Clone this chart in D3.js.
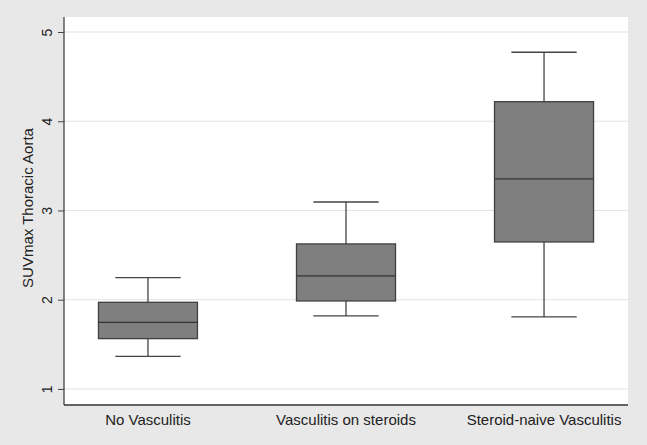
<!DOCTYPE html>
<html><head><meta charset="utf-8">
<script src="https://cdn.jsdelivr.net/npm/d3@7"></script>
<style>body{margin:0;background:#e8e8e8;}svg{display:block;font-family:"Liberation Sans",Arial,sans-serif;}</style>
</head><body>
<svg id="chart" width="647" height="445"></svg>
<script>
const categories = ["No Vasculitis", "Vasculitis on steroids", "Steroid-naive Vasculitis"];
const whiskerLow = [1.366, 1.818, 1.807];
const q1 = [1.564, 1.986, 2.647];
const median = [1.747, 2.266, 3.353];
const q3 = [1.971, 2.625, 4.219];
const whiskerHigh = [2.247, 3.095, 4.773];
const yTicks = [1, 2, 3, 4, 5];
const yTitle = "SUVmax Thoracic Aorta";

const svg = d3.select("#chart");
const W = 647, H = 445;
const m = {left: 64, right: 19, top: 17, bottom: 40};
const pw = W - m.left - m.right, ph = H - m.top - m.bottom;

svg.append("rect").attr("width", W).attr("height", H).attr("fill", "#e8e8e8");
const g = svg.append("g").attr("transform", `translate(${m.left},${m.top})`);
g.append("rect").attr("width", pw).attr("height", ph).attr("fill", "#fff");

const y = d3.scaleLinear().domain([0.82, 5.168]).range([ph, 0]);
const x = d3.scaleBand().domain(categories).range([0, pw]).paddingInner(0.5).paddingOuter(0.174);

// gridlines
g.selectAll(".grid").data(yTicks).join("line")
  .attr("x1", 0).attr("x2", pw)
  .attr("y1", d => y(d)).attr("y2", d => y(d))
  .attr("stroke", "#e3e3e3").attr("stroke-width", 1);

const data = categories.map((c, i) => ({c, lo: whiskerLow[i], q1: q1[i], med: median[i], q3: q3[i], hi: whiskerHigh[i]}));
const stroke = "#444";
const bw = x.bandwidth();
const capW = bw * 0.66;
const box = g.selectAll(".box").data(data).join("g").attr("transform", d => `translate(${x(d.c) + bw / 2},0)`);
box.append("line").attr("x1", 0).attr("x2", 0).attr("y1", d => y(d.hi)).attr("y2", d => y(d.q3)).attr("stroke", stroke).attr("stroke-width", 1.3);
box.append("line").attr("x1", 0).attr("x2", 0).attr("y1", d => y(d.q1)).attr("y2", d => y(d.lo)).attr("stroke", stroke).attr("stroke-width", 1.3);
box.append("line").attr("x1", -capW / 2).attr("x2", capW / 2).attr("y1", d => y(d.hi)).attr("y2", d => y(d.hi)).attr("stroke", stroke).attr("stroke-width", 1.3);
box.append("line").attr("x1", -capW / 2).attr("x2", capW / 2).attr("y1", d => y(d.lo)).attr("y2", d => y(d.lo)).attr("stroke", stroke).attr("stroke-width", 1.3);
box.append("rect").attr("x", -bw / 2).attr("width", bw)
  .attr("y", d => y(d.q3)).attr("height", d => y(d.q1) - y(d.q3))
  .attr("fill", "#7f7f7f").attr("stroke", "#404040").attr("stroke-width", 1.3);
box.append("line").attr("x1", -bw / 2).attr("x2", bw / 2).attr("y1", d => y(d.med)).attr("y2", d => y(d.med)).attr("stroke", "#333").attr("stroke-width", 1.3);

// y axis
const ya = g.append("g").call(d3.axisLeft(y).tickValues(yTicks).tickSize(6).tickFormat(d3.format("d")));
ya.select(".domain").attr("stroke", "#444").attr("stroke-width", 1.3).attr("d", `M0,0V${ph}`);
ya.selectAll(".tick line").attr("stroke", "#444");
ya.selectAll(".tick text").attr("font-size", 14).attr("fill", "#222")
  .attr("transform", "rotate(-90)").attr("x", 0).attr("y", -12).attr("dy", 0).attr("text-anchor", "middle");

// x axis
const xa = g.append("g").attr("transform", `translate(0,${ph})`).call(d3.axisBottom(x).tickSize(0));
xa.select(".domain").attr("stroke", "#333").attr("stroke-width", 1.5).attr("d", `M0,0H${pw}`);
xa.selectAll(".tick text").attr("font-size", 15).attr("fill", "#222").attr("dy", 0).attr("y", 20);

svg.append("text").attr("transform", `translate(33,${m.top + ph / 2 - 3}) rotate(-90)`)
  .attr("text-anchor", "middle").attr("font-size", 15).attr("fill", "#222").text(yTitle);
</script>
</body></html>
